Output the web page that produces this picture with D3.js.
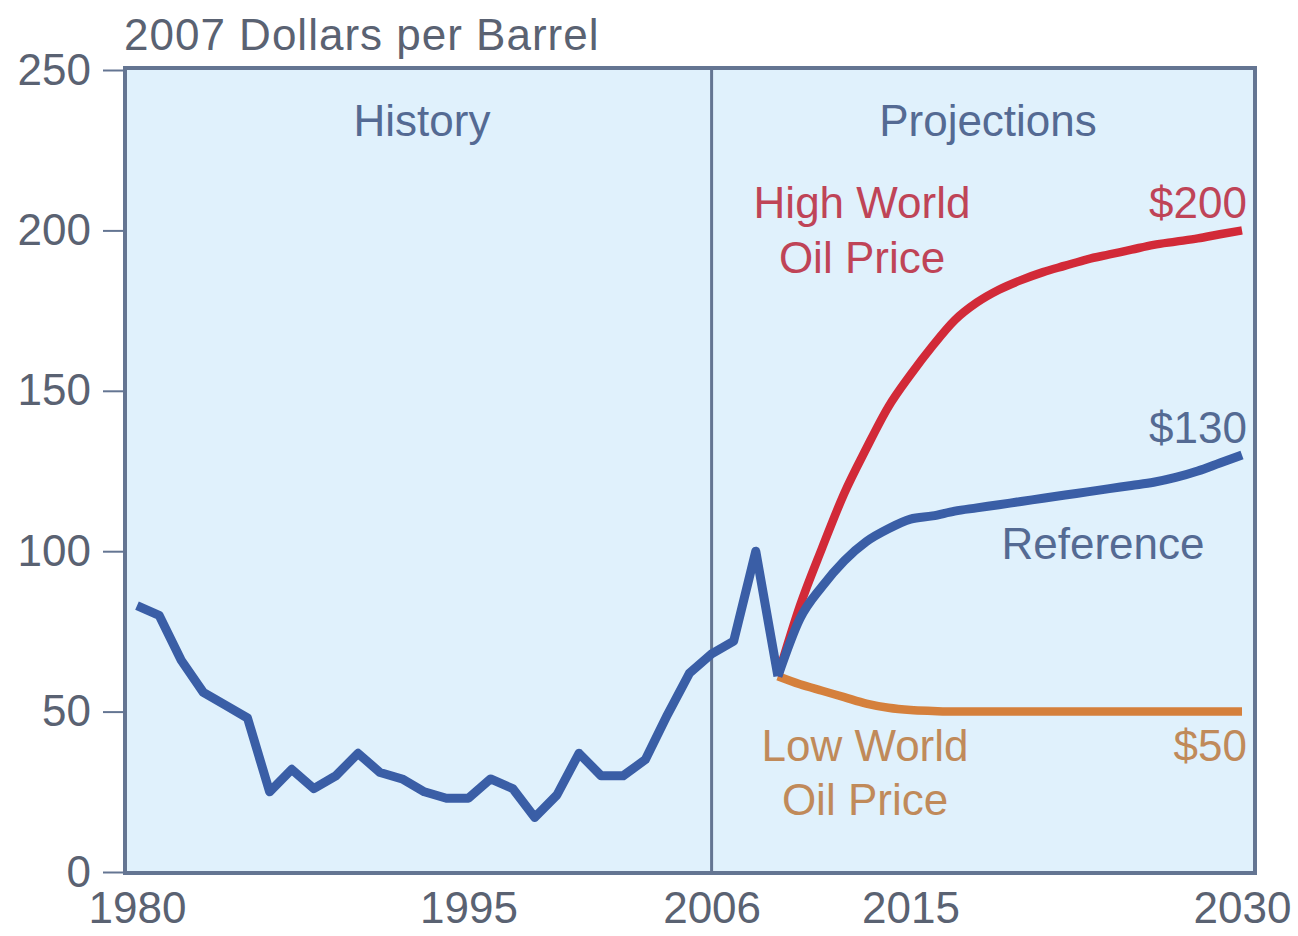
<!DOCTYPE html>
<html>
<head>
<meta charset="utf-8">
<script src="https://cdn.jsdelivr.net/npm/d3@7"></script>
<style>
  body { margin: 0; background: #fff; }
  svg { display: block; font-family: "Liberation Sans", Arial, sans-serif; }
</style>
</head>
<body>
<script>
// history, 1980-2009
var histYears = d3.range(1980, 2010);
var histValues = [83, 80, 66, 56, 52, 48, 25, 32, 26, 30, 37, 31, 29, 25, 23, 23, 29, 26, 17, 24, 37, 30, 30, 35, 49, 62, 68, 72, 100, 61];

// projections, 2009-2030
var projYears = d3.range(2009, 2031);
var refValues  = [61, 79, 89, 97, 103, 107, 110, 111, 112.5, 113.5, 114.5, 115.5, 116.5, 117.5, 118.5, 119.5, 120.5, 121.5, 123, 125, 127.5, 130];
var highValues = [61, 83, 101, 118, 132, 145, 155, 164, 172, 177.5, 181.5, 184.5, 187, 189, 191, 192.5, 194, 195.5, 196.5, 197.5, 198.8, 200];
var lowValues  = [61, 58.5, 56.5, 54.5, 52.5, 51.2, 50.5, 50.2, 50, 50, 50, 50, 50, 50, 50, 50, 50, 50, 50, 50, 50, 50];

var xTicks = [1980, 1995, 2006, 2015, 2030];
var yTicks = [0, 50, 100, 150, 200, 250];

var width = 1298, height = 936;
var fontSize = 44;
var svg = d3.select('body').append('svg')
            .attr('width', width).attr('height', height);

var x = d3.scaleLinear().domain([1980, 2030]).range([137, 1242]);
var y = d3.scaleLinear().domain([0, 250]).range([872, 70]);

var frameLeft = 125, frameRight = 1255, frameTop = 68, frameBottom = 873;
var frameCol = "#647592";
var textCol = "#5a6272";

// plot background
svg.append('rect')
   .attr('x', frameLeft).attr('y', frameTop)
   .attr('width', frameRight - frameLeft).attr('height', frameBottom - frameTop)
   .attr('fill', '#e0f1fc')
   .attr('stroke', frameCol).attr('stroke-width', 4);

// history / projections divider
svg.append('line')
   .attr('x1', x(2006)).attr('x2', x(2006))
   .attr('y1', frameTop).attr('y2', frameBottom)
   .attr('stroke', frameCol).attr('stroke-width', 3);

// y axis
var yAxis = d3.axisLeft(y).tickValues(yTicks).tickSize(22).tickPadding(12);
var yG = svg.append('g').attr('transform', 'translate(' + frameLeft + ',0)').call(yAxis);
yG.select('.domain').remove();
yG.selectAll('line').attr('stroke', frameCol).attr('stroke-width', 2);
yG.selectAll('text').attr('font-size', fontSize).attr('fill', textCol)
  .attr('font-family', '"Liberation Sans", Arial, sans-serif');

// x axis
var xAxis = d3.axisBottom(x).tickValues(xTicks).tickSize(0).tickPadding(19).tickFormat(d3.format('d'));
var xG = svg.append('g').attr('transform', 'translate(0,' + frameBottom + ')').call(xAxis);
xG.select('.domain').remove();
xG.selectAll('text').attr('font-size', fontSize).attr('fill', textCol)
  .attr('font-family', '"Liberation Sans", Arial, sans-serif');

// unit label
svg.append('text')
   .attr('x', 124).attr('y', 50)
   .attr('font-size', fontSize).attr('fill', textCol)
   .attr('letter-spacing', 1)
   .text('2007 Dollars per Barrel');

// lines
var histData = histYears.map((d, i) => ({year: d, value: histValues[i]}));
var refData  = projYears.map((d, i) => ({year: d, value: refValues[i]}));
var highData = projYears.map((d, i) => ({year: d, value: highValues[i]}));
var lowData  = projYears.map((d, i) => ({year: d, value: lowValues[i]}));

var lineJag = d3.line().x(d => x(d.year)).y(d => y(d.value));
var lineSmooth = d3.line().x(d => x(d.year)).y(d => y(d.value)).curve(d3.curveMonotoneX);

function drawLine(data, gen, color, w) {
  svg.append('path')
     .datum(data)
     .attr('d', gen)
     .attr('fill', 'none')
     .attr('stroke', color)
     .attr('stroke-width', w)
     .attr('stroke-linejoin', 'round')
     .attr('stroke-linecap', 'butt');
}

drawLine(lowData, lineSmooth, '#d5803c', 8.5);
drawLine(highData, lineSmooth, '#d22a38', 8.5);
drawLine(refData, lineSmooth, '#3a5ea6', 9);
drawLine(histData, lineJag, '#3a5ea6', 9);

// annotations
var labels = [
  {t: 'History',     x: 422,  y: 136, a: 'middle', c: '#546a93'},
  {t: 'Projections', x: 988,  y: 136, a: 'middle', c: '#546a93'},
  {t: 'High World',  x: 862,  y: 218, a: 'middle', c: '#bf4457'},
  {t: 'Oil Price',   x: 862,  y: 273, a: 'middle', c: '#bf4457'},
  {t: '$200',        x: 1247, y: 218, a: 'end',    c: '#bf4457'},
  {t: '$130',        x: 1247, y: 443, a: 'end',    c: '#546a93'},
  {t: 'Reference',   x: 1103, y: 559, a: 'middle', c: '#546a93'},
  {t: 'Low World',   x: 865,  y: 761, a: 'middle', c: '#c08a5a'},
  {t: 'Oil Price',   x: 865,  y: 815, a: 'middle', c: '#c08a5a'},
  {t: '$50',         x: 1247, y: 761, a: 'end',    c: '#c08a5a'}
];
svg.selectAll('.ann')
   .data(labels)
   .enter()
   .append('text')
   .attr('class', 'ann')
   .attr('x', d => d.x).attr('y', d => d.y)
   .attr('text-anchor', d => d.a)
   .attr('font-size', fontSize)
   .attr('fill', d => d.c)
   .text(d => d.t);
</script>
</body>
</html>
